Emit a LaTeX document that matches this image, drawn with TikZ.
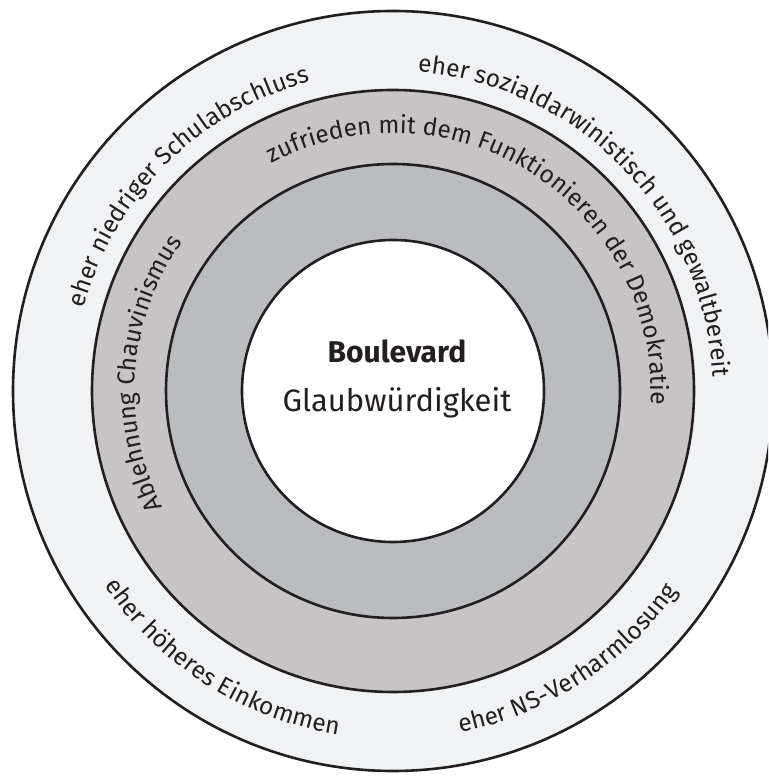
\documentclass[tikz,border=0pt]{standalone}
\usepackage{fontspec}
\setmainfont{Fira Sans}
\usetikzlibrary{decorations.text,calc}
\definecolor{ringout}{RGB}{241,242,244}
\definecolor{ringmid}{RGB}{198,196,197}
\definecolor{ringin}{RGB}{187,188,192}
\definecolor{ink}{RGB}{35,31,32}
\newcommand{\ringfont}{\fontsize{24.5}{29}\selectfont\color{ink}}
\tikzset{
  ring/.style={draw=ink, line width=2.6pt},
  arctext/.style={decorate, decoration={text along path, text align=center, text={|\ringfont|#1}}},
  centertext/.style={text=ink, anchor=base, inner sep=0pt}
}
\begin{document}
\begin{tikzpicture}[x=1pt,y=1pt]
\useasboundingbox (0,0) rectangle (768,776);
\clip (0,0) rectangle (768,776);
\fill[white] (0,0) rectangle (768,776);
\coordinate (c) at (393,385);
\fill[ringout] (c) circle[radius=380];
\draw[ring] (c) circle[radius=380];
\fill[ringmid] (c) circle[radius=301];
\draw[ring] (c) circle[radius=301];
\fill[ringin] (c) circle[radius=227];
\draw[ring] (c) circle[radius=227];
\fill[white] (c) circle[radius=151];
\draw[ring] (c) circle[radius=151];

\node[centertext, font=\fontsize{30}{36}\selectfont\bfseries] (t1) at (397,413) {Boulevard};
\node[centertext, font=\fontsize{31}{37}\selectfont] (t2) at (397,364) {Glaubwürdigkeit};

% outer ring, top (clockwise)
\path[arctext={eher sozialdarwinistisch und gewaltbereit}] ($(c)+(104:320)$) arc[start angle=104, end angle=-16, radius=320];
\path[arctext={eher niedriger Schulabschluss}] ($(c)+(195:320)$) arc[start angle=195, end angle=75, radius=320];
% outer ring, bottom (counterclockwise)
\path[arctext={eher höheres Einkommen}] ($(c)+(187.5:348)$) arc[start angle=187.5, end angle=287.5, radius=348];
\path[arctext={eher NS-Verharmlosung}] ($(c)+(253:348)$) arc[start angle=253, end angle=353, radius=348];
% middle ring
\path[arctext={zufrieden mit dem Funktionieren der Demokratie}] ($(c)+(137.5:258)$) arc[start angle=137.5, end angle=-22.5, radius=258];
\path[arctext={Ablehnung Chauvinismus}] ($(c)+(235.75:258)$) arc[start angle=235.75, end angle=115.75, radius=258];
\end{tikzpicture}
\end{document}
